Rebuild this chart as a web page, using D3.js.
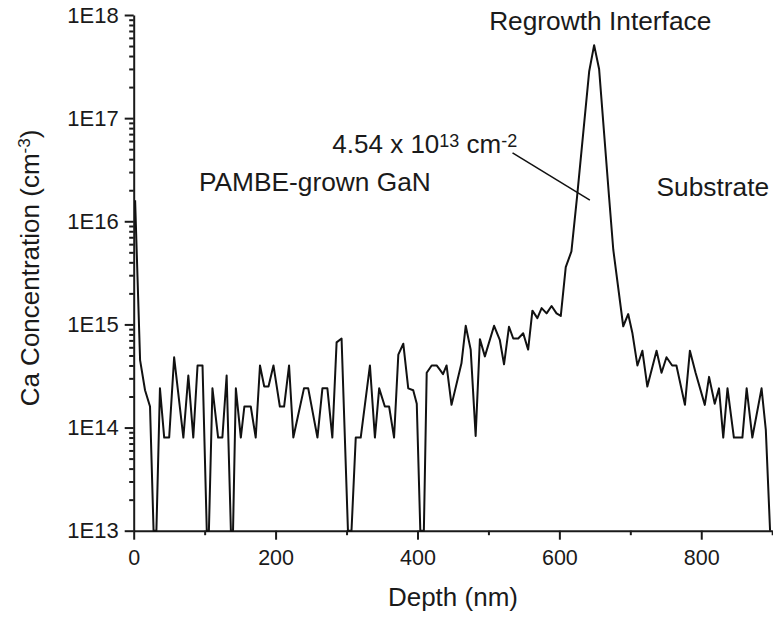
<!DOCTYPE html>
<html>
<head>
<meta charset="utf-8">
<script src="https://cdn.jsdelivr.net/npm/d3@7/dist/d3.min.js"></script>
<style>
  body { margin: 0; background: #fff; }
  text { font-family: "Liberation Sans", Arial, sans-serif; fill: #1a1a1a; }
</style>
</head>
<body>
<div id="chart"></div>
<script>
// depth (nm) and Ca concentration (cm^-3), values at the bottom edge are clipped to 1E13
const depth = [2, 9, 16, 23, 28, 32, 37, 43, 50, 57, 70, 77, 84, 90, 97, 103, 106, 111, 119, 125,
  131, 137, 140, 144, 151, 156, 165, 172, 178, 184, 190, 197, 206, 212, 219, 225, 240, 246, 259, 266,
  273, 280, 286, 293, 302, 307, 313, 320, 333, 340, 346, 354, 360, 367, 373, 380, 387, 394, 399, 404,
  409, 413, 420, 427, 432, 436, 441, 448, 462, 468, 475, 482, 488, 495, 508, 516, 522, 529, 535, 542,
  549, 556, 562, 569, 575, 582, 589, 596, 602, 609, 617, 625, 642, 649, 656, 670, 676, 690, 697, 703,
  710, 717, 724, 737, 744, 751, 759, 765, 777, 784, 792, 805, 811, 819, 825, 831, 837, 846, 858, 864,
  872, 885, 891, 897];
const conc = [1.6e16, 4.5e14, 2.3e14, 1.6e14, 1e13, 1e13, 2.4e14, 8e13, 8e13, 4.8e14, 8e13, 3.2e14, 8e13, 4.0e14, 4.0e14, 1e13, 1e13, 2.4e14, 8e13, 8e13,
  3.2e14, 1e13, 1e13, 2.4e14, 8e13, 1.6e14, 1.6e14, 8e13, 4.0e14, 2.5e14, 2.5e14, 4.0e14, 1.6e14, 1.6e14, 4.0e14, 8e13, 2.4e14, 2.4e14, 8e13, 2.4e14,
  2.4e14, 8e13, 6.7e14, 7.3e14, 1e13, 1e13, 8e13, 8e13, 4.0e14, 8e13, 2.4e14, 1.6e14, 1.6e14, 8e13, 5.1e14, 6.5e14, 2.4e14, 2.3e14, 1.7e14, 1e13,
  1e13, 3.4e14, 4.0e14, 4.0e14, 3.6e14, 3.3e14, 4.0e14, 1.66e14, 4.2e14, 9.7e14, 5.7e14, 8.3e13, 7.2e14, 4.9e14, 9.7e14, 7.1e14, 4.1e14, 9.5e14, 7.3e14, 7.3e14,
  8.2e14, 5.7e14, 1.36e15, 1.15e15, 1.44e15, 1.28e15, 1.51e15, 1.28e15, 1.21e15, 3.6e15, 5.1e15, 1.74e16, 2.83e17, 5.1e17, 3.0e17, 1.74e16, 5.3e15, 9.6e14, 1.26e15, 8.2e14,
  4.0e14, 5.56e14, 2.5e14, 5.56e14, 3.4e14, 4.8e14, 4.0e14, 4.0e14, 1.66e14, 5.56e14, 3.4e14, 1.66e14, 3.1e14, 1.7e14, 2.4e14, 8e13, 2.4e14, 8e13, 8e13, 2.4e14,
  8e13, 2.4e14, 9.5e13, 1e13];

const xTicks = [0, 200, 400, 600, 800];
const xMinorTicks = [100, 300, 500, 700, 900];
const yTicks = [1e13, 1e14, 1e15, 1e16, 1e17, 1e18];
const yTickLabels = ["1E13", "1E14", "1E15", "1E16", "1E17", "1E18"];

// annotation anchors in data units: [depth, concentration]
const regionLabels = [
  { text: "PAMBE-grown GaN", at: [92, 1.95e16] },
  { text: "Substrate", at: [737, 1.75e16] },
  { text: "Regrowth Interface", at: [501, 7.2e17] }
];
const doseAt = [280, 4.6e16];
const pointer = [[534, 4.6e16], [643, 1.6e16]];

let width = 773;
let height = 617;

let svg = d3.select("#chart")
  .append("svg")
    .attr("width", width)
    .attr("height", height);

let x = d3.scaleLinear()
  .domain([0, 900])
  .range([133.7, 772.2]);

let y = d3.scaleLog()
  .domain([1e13, 1e18])
  .range([530.7, 15]);

let minorY = [];
yTicks.slice(0, -1).forEach(t => {
  for (let k = 2; k <= 9; k++) minorY.push(t * k);
});

// axes
let xAxis = svg.append("g")
  .attr("transform", "translate(0," + y(1e13) + ")")
  .call(d3.axisBottom(x).tickValues(xTicks).tickSize(9).tickSizeOuter(0).tickPadding(10));
svg.append("g")
  .attr("transform", "translate(0," + y(1e13) + ")")
  .call(d3.axisBottom(x).tickValues(xMinorTicks).tickSize(4.5).tickFormat(""))
  .select(".domain").remove();

let yAxis = svg.append("g")
  .attr("transform", "translate(" + x(0) + ",0)")
  .call(d3.axisLeft(y).tickValues(yTicks).tickSize(9).tickSizeOuter(0).tickPadding(6)
    .tickFormat((d, i) => yTickLabels[i]));
svg.append("g")
  .attr("transform", "translate(" + x(0) + ",0)")
  .call(d3.axisLeft(y).tickValues(minorY).tickSize(4.5).tickFormat(""))
  .select(".domain").remove();

svg.selectAll(".domain, .tick line")
  .attr("stroke", "#1a1a1a")
  .attr("stroke-width", 2);
xAxis.selectAll(".tick text").attr("font-size", 21.5).attr("fill", "#1a1a1a");
yAxis.selectAll(".tick text").attr("font-size", 22).attr("fill", "#1a1a1a");

// axis titles
svg.append("text")
  .attr("x", (x(0) + x(900)) / 2)
  .attr("y", 606)
  .attr("text-anchor", "middle")
  .attr("font-size", 26)
  .text("Depth (nm)");

let yTitle = svg.append("text")
  .attr("transform", "translate(39,268) rotate(-90)")
  .attr("text-anchor", "middle")
  .attr("font-size", 26);
yTitle.append("tspan").text("Ca Concentration (cm");
yTitle.append("tspan").attr("font-size", 17).attr("dy", -9).text("-3");
yTitle.append("tspan").attr("dy", 9).text(")");

// profile
let line = d3.line()
  .x(d => x(d[0]))
  .y(d => y(d[1]));

svg.append("path")
  .datum(depth.map((d, i) => [d, conc[i]]))
  .attr("fill", "none")
  .attr("stroke", "#111")
  .attr("stroke-width", 2)
  .attr("stroke-linejoin", "round")
  .attr("d", line);

// annotations
svg.selectAll(".region")
  .data(regionLabels)
  .enter()
  .append("text")
    .attr("class", "region")
    .attr("x", d => x(d.at[0]))
    .attr("y", d => y(d.at[1]))
    .attr("font-size", 26.3)
    .text(d => d.text);

let dose = svg.append("text")
  .attr("x", x(doseAt[0]))
  .attr("y", y(doseAt[1]))
  .attr("font-size", 26);
dose.append("tspan").text("4.54 x 10");
dose.append("tspan").attr("font-size", 18).attr("dy", -6).text("13");
dose.append("tspan").attr("dy", 6).text(" cm");
dose.append("tspan").attr("font-size", 18).attr("dy", -6).text("-2");

svg.append("line")
  .attr("x1", x(pointer[0][0]))
  .attr("y1", y(pointer[0][1]))
  .attr("x2", x(pointer[1][0]))
  .attr("y2", y(pointer[1][1]))
  .attr("stroke", "#111")
  .attr("stroke-width", 1.5);
</script>
</body>
</html>
